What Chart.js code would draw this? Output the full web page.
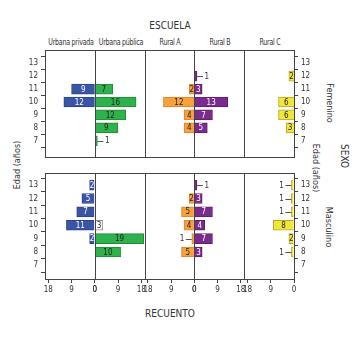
<!DOCTYPE html>
<html lang="es">
<head>
<meta charset="UTF-8">
<title>Edad por escuela y sexo</title>
<script src="https://cdn.jsdelivr.net/npm/chart.js"></script>
<style>
  body {
    margin: 0; width: 359px; height: 340px; background: #fff;
    position: relative; overflow: hidden; color: #333;
    font-family: 'Liberation Sans Narrow', 'DejaVu Sans Condensed', sans-serif;
  }
  canvas { position: absolute; left: 0; }
  #grafFem { top: 40px; }
  #grafMas { top: 165px; }
  .txt { position: absolute; white-space: nowrap; transform: translate(-50%, -50%); font-size: 9px; }
  .cab { font-size: 8px; top: 42px; letter-spacing: -0.3px; transform: translate(-50%, -50%) scaleX(0.88); }
  .vert-izq { transform: translate(-50%, -50%) rotate(-90deg); }
  .vert-der { transform: translate(-50%, -50%) rotate(90deg); }
</style>
</head>
<body>

  <!-- titulos -->
  <div class="txt" style="left:170px; top:25px; font-size:10px;">ESCUELA</div>
  <div class="txt cab" style="left:71px;">Urbana privada</div>
  <div class="txt cab" style="left:121px;">Urbana pública</div>
  <div class="txt cab" style="left:170px;">Rural A</div>
  <div class="txt cab" style="left:220px;">Rural B</div>
  <div class="txt cab" style="left:270px;">Rural C</div>
  <div class="txt" style="left:170px; top:313px; font-size:10px;">RECUENTO</div>
  <div class="txt vert-izq" style="left:17px; top:165px;">Edad (años)</div>
  <div class="txt vert-der" style="left:316px; top:168px;">Edad (años)</div>
  <div class="txt vert-der" style="left:330px; top:103px;">Femenino</div>
  <div class="txt vert-der" style="left:329px; top:227px;">Masculino</div>
  <div class="txt vert-der" style="left:344px; top:156px; font-size:10px;">SEXO</div>

  <canvas id="grafFem" width="359" height="125"></canvas>
  <canvas id="grafMas" width="359" height="175"></canvas>

<script>
  // Datos (edad de 13 a 7)
  const edades = [13, 12, 11, 10, 9, 8, 7];
  const escuelas = ['Urbana privada', 'Urbana pública', 'Rural A', 'Rural B', 'Rural C'];
  const ticksRecuento = [0, 9, 18];

  // Femenino
  const femPrivada = [null, null, 9, 12, null, null, null];
  const femPublica = [null, null, 7, 16, 12, 9, 1];
  const femRuralA  = [null, null, 2, 12, 4, 4, null];
  const femRuralB  = [null, 1, 3, 13, 7, 5, null];
  const femRuralC  = [null, 2, null, 6, 6, 3, null];

  // Masculino
  const masPrivada = [2, 5, 7, 11, 2, null, null];
  const masPublica = [null, null, null, 3, 19, 10, null];
  const masRuralA  = [null, 2, 5, 4, 1, 5, null];
  const masRuralB  = [1, 3, 7, 4, 7, 3, null];
  const masRuralC  = [1, 1, 1, 8, 2, 1, null];

  // Estilos
  const colores = ['#3b55a6', '#2fb24b', '#f6a13d', '#7a2c8c', '#f3e63a'];
  const bordes  = ['#2c4188', '#1f8a36', '#d9852a', '#5c1e6b', '#b5a820'];
  const textoBlanco = [true, false, false, true, false];
  const fuente = '"Liberation Sans Narrow", "DejaVu Sans Condensed", sans-serif';
  const XMAX = 19.3;

  function pares(serie) {
    const out = [];
    serie.forEach((v, i) => { if (v !== null) out.push({ x: v, y: edades[i] }); });
    return out;
  }

  // marco de cada panel
  const marco = {
    id: 'marco',
    afterDatasetsDraw(chart) {
      const c = chart.ctx;
      const a = chart.chartArea;
      c.save();
      c.strokeStyle = '#444';
      c.lineWidth = 1;
      for (let i = 0; i < 5; i++) {
        const s = chart.scales['x' + i];
        c.strokeRect(Math.round(s.left) + 0.5, Math.round(a.top) + 0.5,
                     Math.round(s.right) - Math.round(s.left), Math.round(a.bottom) - Math.round(a.top));
      }
      c.restore();
    }
  };

  // numeros sobre las barras
  const etiquetas = {
    id: 'etiquetas',
    afterDatasetsDraw(chart) {
      const c = chart.ctx;
      c.save();
      c.font = '8px ' + fuente;
      c.textBaseline = 'middle';
      chart.data.datasets.forEach((ds, i) => {
        const meta = chart.getDatasetMeta(i);
        meta.data.forEach((bar, j) => {
          const v = ds.data[j].x;
          const dir = bar.x >= bar.base ? 1 : -1;
          if (v === 1) {
            const yy = Math.round(bar.y) + 0.5;
            c.strokeStyle = '#555';
            c.lineWidth = 1;
            c.beginPath();
            c.moveTo(bar.x, yy);
            c.lineTo(bar.x + dir * 6, yy);
            c.stroke();
            c.fillStyle = '#333';
            c.textAlign = dir > 0 ? 'left' : 'right';
            c.fillText('1', bar.x + dir * 7.5, bar.y + 0.5);
          } else {
            c.fillStyle = textoBlanco[i] ? '#fff' : '#222';
            c.textAlign = 'center';
            c.fillText(String(v), (bar.x + bar.base) / 2, bar.y + 0.5);
          }
        });
      });
      c.restore();
    }
  };

  function crearFila(id, series, yMin, yMax, conEjeX, padding, blancos) {
    const scales = {};
    for (let i = 0; i < 5; i++) {
      scales['x' + i] = {
        type: 'linear',
        position: 'bottom',
        stack: 'cols',
        stackWeight: 1,
        min: 0,
        max: XMAX,
        reverse: i % 2 === 0,
        afterBuildTicks: s => { s.ticks = ticksRecuento.map(v => ({ value: v })); },
        afterFit: s => { s.height = conEjeX ? 20 : 0; },
        border: { display: false },
        grid: { display: conEjeX, drawOnChartArea: false, tickLength: 4, color: '#444' },
        ticks: {
          display: conEjeX, autoSkip: false, maxRotation: 0, padding: 2,
          color: '#333', font: { size: 8, family: fuente }
        }
      };
    }
    const ejeY = (pos, ancho) => ({
      type: 'linear',
      position: pos,
      min: yMin,
      max: yMax,
      afterBuildTicks: s => { s.ticks = edades.map(v => ({ value: v })); },
      afterFit: s => { s.width = ancho; },
      border: { display: false },
      grid: { drawOnChartArea: false, tickLength: 4, color: '#444' },
      ticks: { padding: 3, color: '#333', font: { size: 8, family: fuente } }
    });
    scales.y = ejeY('left', 45);
    scales.yR = ejeY('right', 65);

    const datasets = series.map((serie, i) => {
      const datos = pares(serie);
      return {
        label: escuelas[i],
        data: datos,
        xAxisID: 'x' + i,
        yAxisID: 'y',
        backgroundColor: datos.map(d => (blancos[i] === d.y ? '#ffffff' : colores[i])),
        borderColor: datos.map(d => (blancos[i] === d.y ? '#888888' : bordes[i])),
        borderWidth: 1,
        barThickness: 10,
        grouped: false
      };
    });

    return new Chart(document.getElementById(id), {
      type: 'bar',
      data: { datasets },
      options: {
        indexAxis: 'y',
        responsive: false,
        animation: false,
        layout: { padding: padding },
        scales,
        plugins: { legend: { display: false }, tooltip: { enabled: false } }
      },
      plugins: [marco, etiquetas]
    });
  }

  crearFila('grafFem',
    [femPrivada, femPublica, femRuralA, femRuralB, femRuralC],
    6.34, 13.43, false, { top: 10, bottom: 8, left: 0, right: 0 }, []);

  // la barra de 10 años en Urbana pública (masculino) aparece en blanco
  crearFila('grafMas',
    [masPrivada, masPublica, masRuralA, masRuralB, masRuralC],
    6.55, 13.34, true, { top: 8, bottom: 41, left: 0, right: 0 }, [null, 10]);
</script>
</body>
</html>
